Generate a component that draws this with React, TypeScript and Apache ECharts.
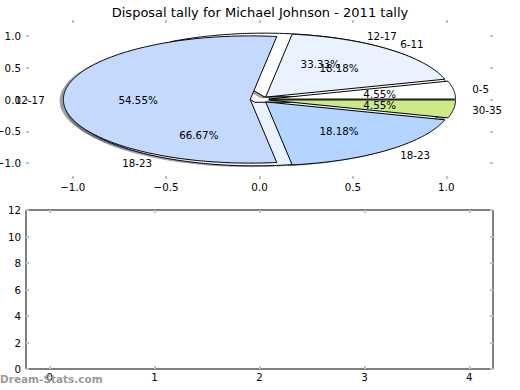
import React, { useEffect, useRef } from 'react';
import * as echarts from 'echarts';

const titleText = 'Disposal tally for Michael Johnson - 2011 tally';
const watermarkText = 'Dream-Stats.com';

// Outer (first) pie: disposal counts by bracket
const outerLabels = ['0-5', '6-11', '12-17', '18-23', '30-35'];
const outerValues = [1, 4, 12, 4, 1];
// Second pie drawn underneath
const innerLabels = ['12-17', '18-23'];
const innerValues = [1, 2];

const pieTicks = [-1, -0.5, 0, 0.5, 1];
const countTicks = [0, 2, 4, 6, 8, 10, 12];
const slotTicks = [0, 1, 2, 3, 4];

const palette = ['#ffffff', '#eaf2ff', '#c5d9ff', '#b4d5ff', '#cdea8b'];
const EXPLODE = 0.05;
const FONT = 'DejaVu Sans';
const FS = 10.3;

type Wedge = { a0: number; a1: number; mid: number; cx: number; cy: number; pct: number };

function layoutPie(values: number[]): Wedge[] {
  const total = values.reduce((a, b) => a + b, 0);
  let acc = 0;
  return values.map((v) => {
    const a0 = (acc / total) * 360;
    acc += v;
    const a1 = (acc / total) * 360;
    const mid = (((a0 + a1) / 2) * Math.PI) / 180;
    return { a0, a1, mid, cx: EXPLODE * Math.cos(mid), cy: EXPLODE * Math.sin(mid), pct: (v / total) * 100 };
  });
}

const pies = [
  { labels: outerLabels, wedges: layoutPie(outerValues) },
  { labels: innerLabels, wedges: layoutPie(innerValues) },
];

function wedgePoints(api: any, w: Wedge, dx: number, dy: number) {
  const pts: number[][] = [api.coord([w.cx + dx, w.cy + dy])];
  const n = Math.max(4, Math.ceil((w.a1 - w.a0) * 1.5));
  for (let k = 0; k <= n; k++) {
    const a = ((w.a0 + ((w.a1 - w.a0) * k) / n) * Math.PI) / 180;
    pts.push(api.coord([w.cx + dx + Math.cos(a), w.cy + dy + Math.sin(a)]));
  }
  return pts;
}

function shade(hex: string) {
  const r = parseInt(hex.slice(1, 3), 16);
  const g = parseInt(hex.slice(3, 5), 16);
  const b = parseInt(hex.slice(5, 7), 16);
  return `rgba(${Math.round(r * 0.3)},${Math.round(g * 0.3)},${Math.round(b * 0.3)},0.5)`;
}

const fmtPie = (v: number) => (v < 0 ? '\u2212' : '') + Math.abs(v).toFixed(1);

// drawing order: inner pie (1) first, then outer pie (0)
const shadowItems = [
  ...innerValues.map((_, i) => [1, i]),
  ...outerValues.map((_, i) => [0, i]),
];
const innerItems = innerValues.map((_, i) => [1, i]);
const outerItems = outerValues.map((_, i) => [0, i]);

const tickStyle = { color: '#c0c0c0', width: 2 };
const labelStyle = { fontFamily: FONT, fontSize: FS, color: '#000' };

export default function App() {
  const ref = useRef<HTMLDivElement>(null);
  useEffect(() => {
    if (!ref.current) return;
    const chart = echarts.init(ref.current, undefined, { renderer: 'svg' });

    const wedgeRender = (params: any, api: any) => {
      const p = api.value(0);
      const i = api.value(1);
      const w = pies[p].wedges[i];
      return {
        type: 'polygon',
        shape: { points: wedgePoints(api, w, 0, 0) },
        style: { fill: palette[i % palette.length], stroke: '#000', lineWidth: 1 },
      };
    };
    const shadowRender = (params: any, api: any) => {
      const p = api.value(0);
      const i = api.value(1);
      const w = pies[p].wedges[i];
      return {
        type: 'polygon',
        shape: { points: wedgePoints(api, w, -0.02, -0.02) },
        style: { fill: shade(palette[i % palette.length]), lineWidth: 0 },
      };
    };
    const labelRender = (params: any, api: any) => {
      const p = api.value(0);
      const i = api.value(1);
      const w = pies[p].wedges[i];
      const lx = w.cx + 1.1 * Math.cos(w.mid);
      const ly = w.cy + 1.1 * Math.sin(w.mid);
      const px = w.cx + 0.6 * Math.cos(w.mid);
      const py = w.cy + 0.6 * Math.sin(w.mid);
      const lp = api.coord([lx, ly]);
      const pp = api.coord([px, py]);
      return {
        type: 'group',
        children: [
          {
            type: 'text',
            x: lp[0],
            y: lp[1],
            style: {
              text: pies[p].labels[i],
              align: lx > 0 ? 'left' : 'right',
              verticalAlign: 'middle',
              fontFamily: FONT,
              fontSize: FS,
              fill: '#000',
            },
          },
          {
            type: 'text',
            x: pp[0],
            y: pp[1],
            style: {
              text: w.pct.toFixed(2) + '%',
              align: 'center',
              verticalAlign: 'middle',
              fontFamily: FONT,
              fontSize: FS,
              fill: '#000',
            },
          },
        ],
      };
    };

    const baseX = (grid: number, min: number, max: number, ticks: number[], pos: 'top' | 'bottom', labels: boolean, fmt: (v: number) => string) => ({
      type: 'value',
      gridIndex: grid,
      position: pos,
      min,
      max,
      axisLine: { show: false, onZero: false },
      splitLine: { show: false },
      axisTick: { show: true, inside: true, length: 3, lineStyle: tickStyle, customValues: ticks },
      axisLabel: { show: labels, customValues: ticks, formatter: fmt, margin: 3, ...labelStyle },
    });
    const baseY = (grid: number, min: number, max: number, ticks: number[], pos: 'left' | 'right', labels: boolean, fmt: (v: number) => string, margin: number) => ({
      type: 'value',
      gridIndex: grid,
      position: pos,
      min,
      max,
      axisLine: { show: false, onZero: false },
      splitLine: { show: false },
      axisTick: { show: true, inside: true, length: 3, lineStyle: tickStyle, customValues: ticks },
      axisLabel: { show: labels, customValues: ticks, formatter: fmt, margin, ...labelStyle },
    });
    const fmtInt = (v: number) => String(v);

    chart.setOption({
      animation: false,
      backgroundColor: '#fff',
      title: {
        text: titleText,
        left: 'center',
        top: 1,
        textStyle: { fontFamily: FONT, fontSize: 13, fontWeight: 'normal', color: '#000' },
      },
      grid: [
        { left: 26, right: 27, top: 20, height: 159, show: false, containLabel: false, outerBoundsMode: 'none' },
        {
          left: 26,
          right: 27,
          top: 210,
          height: 159,
          show: true,
          borderColor: '#000',
          borderWidth: 1,
          backgroundColor: 'transparent',
          containLabel: false,
          outerBoundsMode: 'none',
        },
      ],
      xAxis: [
        baseX(0, -1.25, 1.25, pieTicks, 'bottom', true, fmtPie),
        baseX(0, -1.25, 1.25, pieTicks, 'top', false, fmtPie),
        baseX(1, -0.225, 4.225, slotTicks, 'bottom', true, fmtInt),
        baseX(1, -0.225, 4.225, slotTicks, 'top', false, fmtInt),
      ],
      yAxis: [
        baseY(0, -1.25, 1.25, pieTicks, 'left', true, fmtPie, 5),
        baseY(0, -1.25, 1.25, pieTicks, 'right', false, fmtPie, 5),
        baseY(1, 0, 12, countTicks, 'left', true, fmtInt, 5),
        baseY(1, 0, 12, countTicks, 'right', false, fmtInt, 5),
      ],
      series: [
        {
          type: 'custom',
          name: 'shadows',
          coordinateSystem: 'cartesian2d',
          xAxisIndex: 0,
          yAxisIndex: 0,
          z: 2,
          silent: true,
          data: shadowItems,
          renderItem: shadowRender,
        },
        {
          type: 'custom',
          name: 'inner',
          coordinateSystem: 'cartesian2d',
          xAxisIndex: 0,
          yAxisIndex: 0,
          z: 3,
          silent: true,
          data: innerItems,
          renderItem: wedgeRender,
        },
        {
          type: 'custom',
          name: 'outer',
          coordinateSystem: 'cartesian2d',
          xAxisIndex: 0,
          yAxisIndex: 0,
          z: 4,
          silent: true,
          data: outerItems,
          renderItem: wedgeRender,
        },
        {
          type: 'custom',
          name: 'labels',
          coordinateSystem: 'cartesian2d',
          xAxisIndex: 0,
          yAxisIndex: 0,
          z: 5,
          silent: true,
          data: [...innerItems, ...outerItems],
          renderItem: labelRender,
        },
      ],
      graphic: [
        {
          type: 'text',
          left: 0,
          top: 373,
          style: { text: watermarkText, fontFamily: FONT, fontSize: 10.5, fontWeight: 'bold', fill: '#9a9a9a' },
          z: 10,
        },
      ],
    });
    return () => chart.dispose();
  }, []);
  return <div ref={ref} style={{ position: 'fixed', left: 0, top: 0, width: 520, height: 390, background: '#fff' }} />;
}
